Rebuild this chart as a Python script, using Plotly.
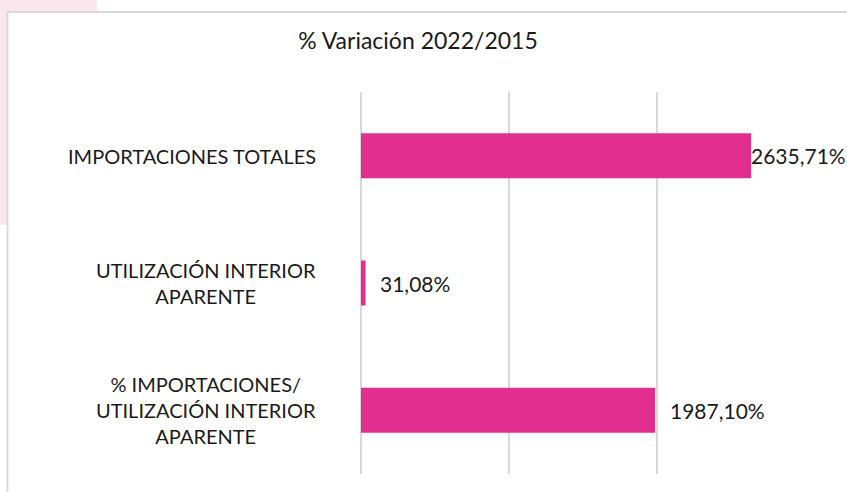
import plotly.graph_objects as go

categories = ["IMPORTACIONES TOTALES", "UTILIZACIÓN INTERIOR<br>APARENTE", "% IMPORTACIONES/<br>UTILIZACIÓN INTERIOR<br>APARENTE"]
values = [2635.71, 31.08, 1987.10]
value_labels = ["2635,71%", "31,08%", "1987,10%"]
label_shift = [-2, 12, 13]
title_text = "% Variación 2022/2015"

W, H = 847, 492
L, R, T, B = 361, 42, 92, 17.5
pw, ph = W - L - R, H - T - B

def px2x(px):
    return (px - L) / pw

def px2y(py):
    return (H - B - py) / ph

FONT = "Lato"
BAR = "#E22E8F"

fig = go.Figure()
fig.add_trace(go.Bar(
    y=categories, x=values, orientation="h",
    marker=dict(color=BAR, line=dict(width=0)),
    width=0.353, hoverinfo="skip",
))

annotations = []
for c in categories:
    annotations.append(dict(
        x=0, xref="paper", xanchor="right", xshift=-43,
        y=c, yref="y", yanchor="middle",
        text=c, showarrow=False, align="center",
        font=dict(family=FONT, size=20, color="#1a1a1a"),
    ))
for c, v, t, s in zip(categories, values, value_labels, label_shift):
    annotations.append(dict(
        x=v, xref="x", xanchor="left", xshift=s,
        y=c, yref="y", yanchor="middle",
        text=t, showarrow=False,
        font=dict(family=FONT, size=21, color="#1a1a1a"),
    ))

shapes = [
    dict(type="rect", xref="paper", yref="paper", layer="below",
         x0=px2x(0), x1=px2x(97), y0=px2y(225), y1=px2y(0),
         fillcolor="#fce6ee", line=dict(width=0)),
    dict(type="rect", xref="paper", yref="paper", layer="below",
         x0=px2x(7.5), x1=px2x(870), y0=px2y(520), y1=px2y(12),
         fillcolor="white", line=dict(color="#d9d9d9", width=2)),
]

fig.update_layout(
    width=W, height=H,
    margin=dict(l=L, r=R, t=T, b=B),
    paper_bgcolor="white", plot_bgcolor="rgba(0,0,0,0)",
    showlegend=False,
    title=dict(text=title_text, x=418 / W, xanchor="center", xref="container",
               y=1 - 41 / H, yanchor="middle", yref="container",
               font=dict(family=FONT, size=23, color="#1a1a1a")),
    xaxis=dict(range=[0, 3000], dtick=1000, showgrid=True, gridcolor="#d9d9d9", gridwidth=1.5,
               showticklabels=False, zeroline=True, zerolinecolor="#d9d9d9", zerolinewidth=1.5,
               showline=False, fixedrange=True),
    yaxis=dict(autorange="reversed", showticklabels=False, showgrid=False, zeroline=False,
               showline=False, fixedrange=True),
    annotations=annotations,
    shapes=shapes,
)

fig.write_html("out.html", config={"displayModeBar": False},
               post_script="document.body.style.margin='0';document.body.style.overflow='hidden';")
